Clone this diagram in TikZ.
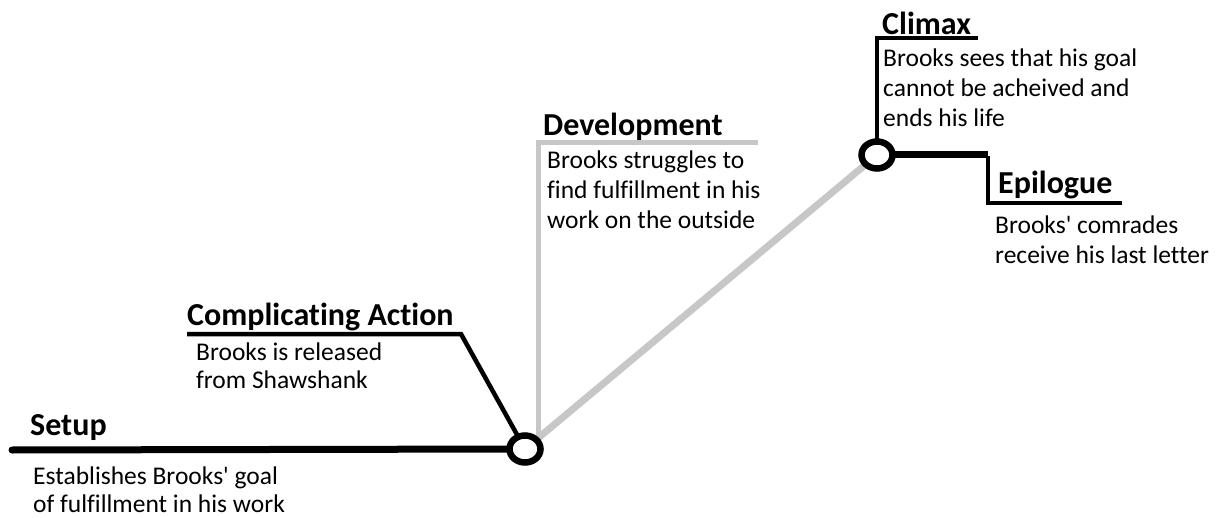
\documentclass[tikz,border=0pt]{standalone}
\usepackage{fontspec}
\setmainfont{Carlito}[Ligatures={NoCommon}]
\usetikzlibrary{shapes.geometric}
\begin{document}
\begin{tikzpicture}[x=1pt,y=-1pt,
  title/.style={anchor=base west,inner sep=0pt,font=\fontsize{32}{36}\selectfont\bfseries},
  body/.style={anchor=base west,inner sep=0pt,font=\fontsize{25.5}{30}\selectfont},
  blk/.style={draw=black,line width=4.5pt,line join=miter},
  blkthick/.style={draw=black,line width=7pt},
  gry/.style={draw=black!22,line width=5pt},
  gryd/.style={draw=black!22,line width=7pt},
  knot/.style={ellipse,draw=black,fill=white,line width=6.5pt,minimum width=31pt,minimum height=27pt,inner sep=0pt}
]
\useasboundingbox (0,0) rectangle (1217,518);
\coordinate (k1) at (525,449);
\coordinate (k2) at (877,155);
\coordinate (setupstart) at (12,450);
\coordinate (castart) at (187,334);
\coordinate (cabend) at (461,334);
\coordinate (devtop) at (538,143);
\coordinate (devend) at (758,143);
\coordinate (climaxend) at (978,38);
\coordinate (epibend) at (988,155);
\coordinate (epidown) at (988,203);
\coordinate (epiend) at (1122,203);
% connectors
\draw[gry] (538,449) -- (devtop) -- (devend);
\draw[gryd] (k1) -- (k2);
\draw[blkthick,line cap=round] (setupstart) -- (k1);
\draw[blk] (castart) -- (cabend) -- (k1);
\draw[blk] (k2) -- (k2 |- climaxend) -- (climaxend);
\draw[blkthick] (k2) -- (epibend);
\draw[blk] ([yshift=-1.5pt]epibend) -- (epidown) -- (epiend);
\node[knot] (n1) at (k1) {};
\node[knot] (n2) at (k2) {};
% texts
\node[title] (setup) at (30,435) {Setup};
\node[body] (setup1) at (33,484) {Establishes Brooks\textquotesingle\ goal};
\node[body] (setup2) at (33,512) {of fulfillment in his work};
\node[title] (ca) at (187,325) {Complicating Action};
\node[body] (ca1) at (196,360) {Brooks is released};
\node[body] (ca2) at (196,388) {from Shawshank};
\node[title] (dev) at (543,136) {Development};
\node[body] (dev1) at (547,169) {Brooks struggles to};
\node[body] (dev2) at (547,199) {find fulfillment in his};
\node[body] (dev3) at (547,229) {work on the outside};
\node[title] (climax) at (882,35) {Climax};
\node[body] (climax1) at (883,67) {Brooks sees that his goal};
\node[body] (climax2) at (883,97) {cannot be acheived and};
\node[body] (climax3) at (883,127) {ends his life};
\node[title] (epi) at (998,194) {Epilogue};
\node[body] (epi1) at (995,234) {Brooks\textquotesingle\ comrades};
\node[body] (epi2) at (995,264) {receive his last letter};
\end{tikzpicture}
\end{document}
